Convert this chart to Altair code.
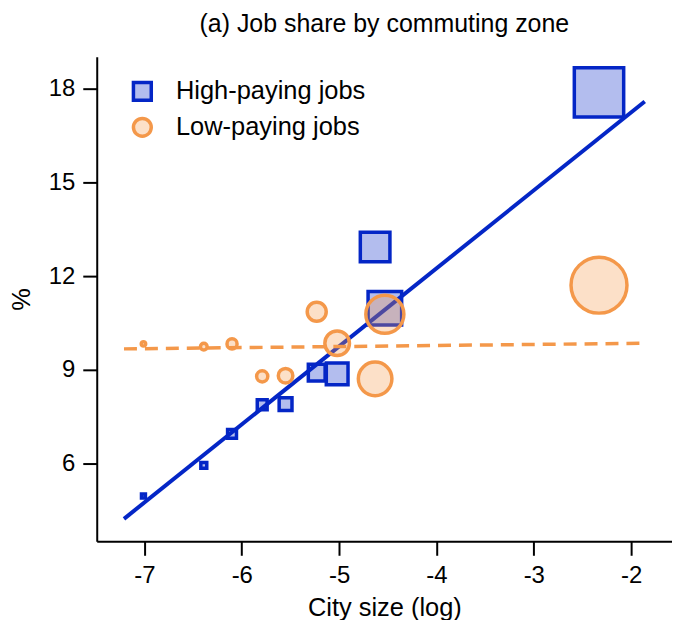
import altair as alt
import pandas as pd

# City-size bins (log) and job shares (%)
city_size = [-7.01, -6.39, -6.10, -5.79, -5.55, -5.23, -5.02, -4.63, -4.53, -2.33]
high_share = [4.96, 5.94, 6.95, 7.88, 7.90, 8.91, 8.87, 12.93, 10.97, 17.88]
low_share = [9.83, 9.74, 9.83, 8.79, 8.81, 10.86, 9.85, 8.71, 10.78, 11.71]
bin_weight = [0.64, 1.44, 3.24, 4.0, 6.76, 11.56, 19.36, 36.0, 46.24, 100.0]

# Fitted lines (endpoints)
fit_x = [-7.21, -1.86]
high_fit = [4.23, 17.59]
low_fit = [9.67, 9.85]

series_names = ["High-paying jobs", "Low-paying jobs"]

BLUE = "#0426C6"
ORANGE = "#F4984A"
FONT = "Liberation Sans"

high_df = pd.DataFrame({"x": city_size, "y": high_share, "w": bin_weight,
                        "series": series_names[0]})
low_df = pd.DataFrame({"x": city_size, "y": low_share, "w": bin_weight,
                       "series": series_names[1]})
high_fit_df = pd.DataFrame({"x": fit_x, "y": high_fit})
low_fit_df = pd.DataFrame({"x": fit_x, "y": low_fit})

xscale = alt.Scale(domain=[-7.49, -1.58], nice=False, zero=False)
yscale = alt.Scale(domain=[3.51, 19.02], nice=False, zero=False)

xaxis = alt.Axis(title="City size (log)", values=[-7, -6, -5, -4, -3, -2],
                 labelExpr="'' + datum.value", grid=False)
yaxis = alt.Axis(title="%", values=[6, 9, 12, 15, 18],
                 labelExpr="'' + datum.value", grid=False)

fill_scale = alt.Scale(domain=series_names,
                       range=["rgba(4,38,198,0.3)", "rgba(244,152,74,0.3)"])
stroke_scale = alt.Scale(domain=series_names, range=[BLUE, ORANGE])
shape_scale = alt.Scale(domain=series_names, range=["square", "circle"])
legend = alt.Legend(title=None, orient="none", legendX=33, legendY=22)


def point_layer(df, size_max):
    return alt.Chart(df).mark_point(filled=True, strokeWidth=3.5, opacity=1).encode(
        x=alt.X("x:Q", scale=xscale, axis=xaxis),
        y=alt.Y("y:Q", scale=yscale, axis=yaxis),
        fill=alt.Fill("series:N", scale=fill_scale, legend=legend),
        stroke=alt.Stroke("series:N", scale=stroke_scale, legend=legend),
        shape=alt.Shape("series:N", scale=shape_scale, legend=legend),
        size=alt.Size("w:Q", scale=alt.Scale(type="linear", domain=[0, 100],
                                             range=[0, size_max]), legend=None),
    )


squares = point_layer(high_df, 2450)
circles = point_layer(low_df, 3150)

high_line = alt.Chart(high_fit_df).mark_line(color=BLUE, strokeWidth=4).encode(
    x=alt.X("x:Q", scale=xscale), y=alt.Y("y:Q", scale=yscale))
low_line = alt.Chart(low_fit_df).mark_line(color=ORANGE, strokeWidth=3.5,
                                           strokeDash=[13, 8]).encode(
    x=alt.X("x:Q", scale=xscale), y=alt.Y("y:Q", scale=yscale))

chart = alt.layer(squares, high_line, low_line, circles).resolve_scale(
    size="independent"
).properties(
    width=577, height=486,
    title=alt.TitleParams("(a) Job share by commuting zone", fontSize=25,
                          font=FONT, fontWeight="normal", color="black",
                          anchor="middle", offset=20),
    autosize=alt.AutoSizeParams(type="none"),
    padding={"left": 89, "top": 48, "right": 0, "bottom": 78},
).configure_view(stroke=None).configure_axis(
    domainColor="black", domainWidth=2, tickColor="black", tickWidth=2,
    tickSize=14, labelFontSize=24, labelFont=FONT, labelColor="black",
    labelPadding=8, titleFont=FONT, titleFontSize=25.5, titleFontWeight="normal",
    titleColor="black"
).configure_axisX(titlePadding=8).configure_axisY(titlePadding=14).configure_legend(
    labelFontSize=25.5, labelFont=FONT, labelColor="black", symbolSize=320,
    symbolStrokeWidth=3.5, rowPadding=3, labelOffset=21, padding=0, labelLimit=500
)

chart.save("out.html", embed_options={"renderer": "svg", "actions": False})
